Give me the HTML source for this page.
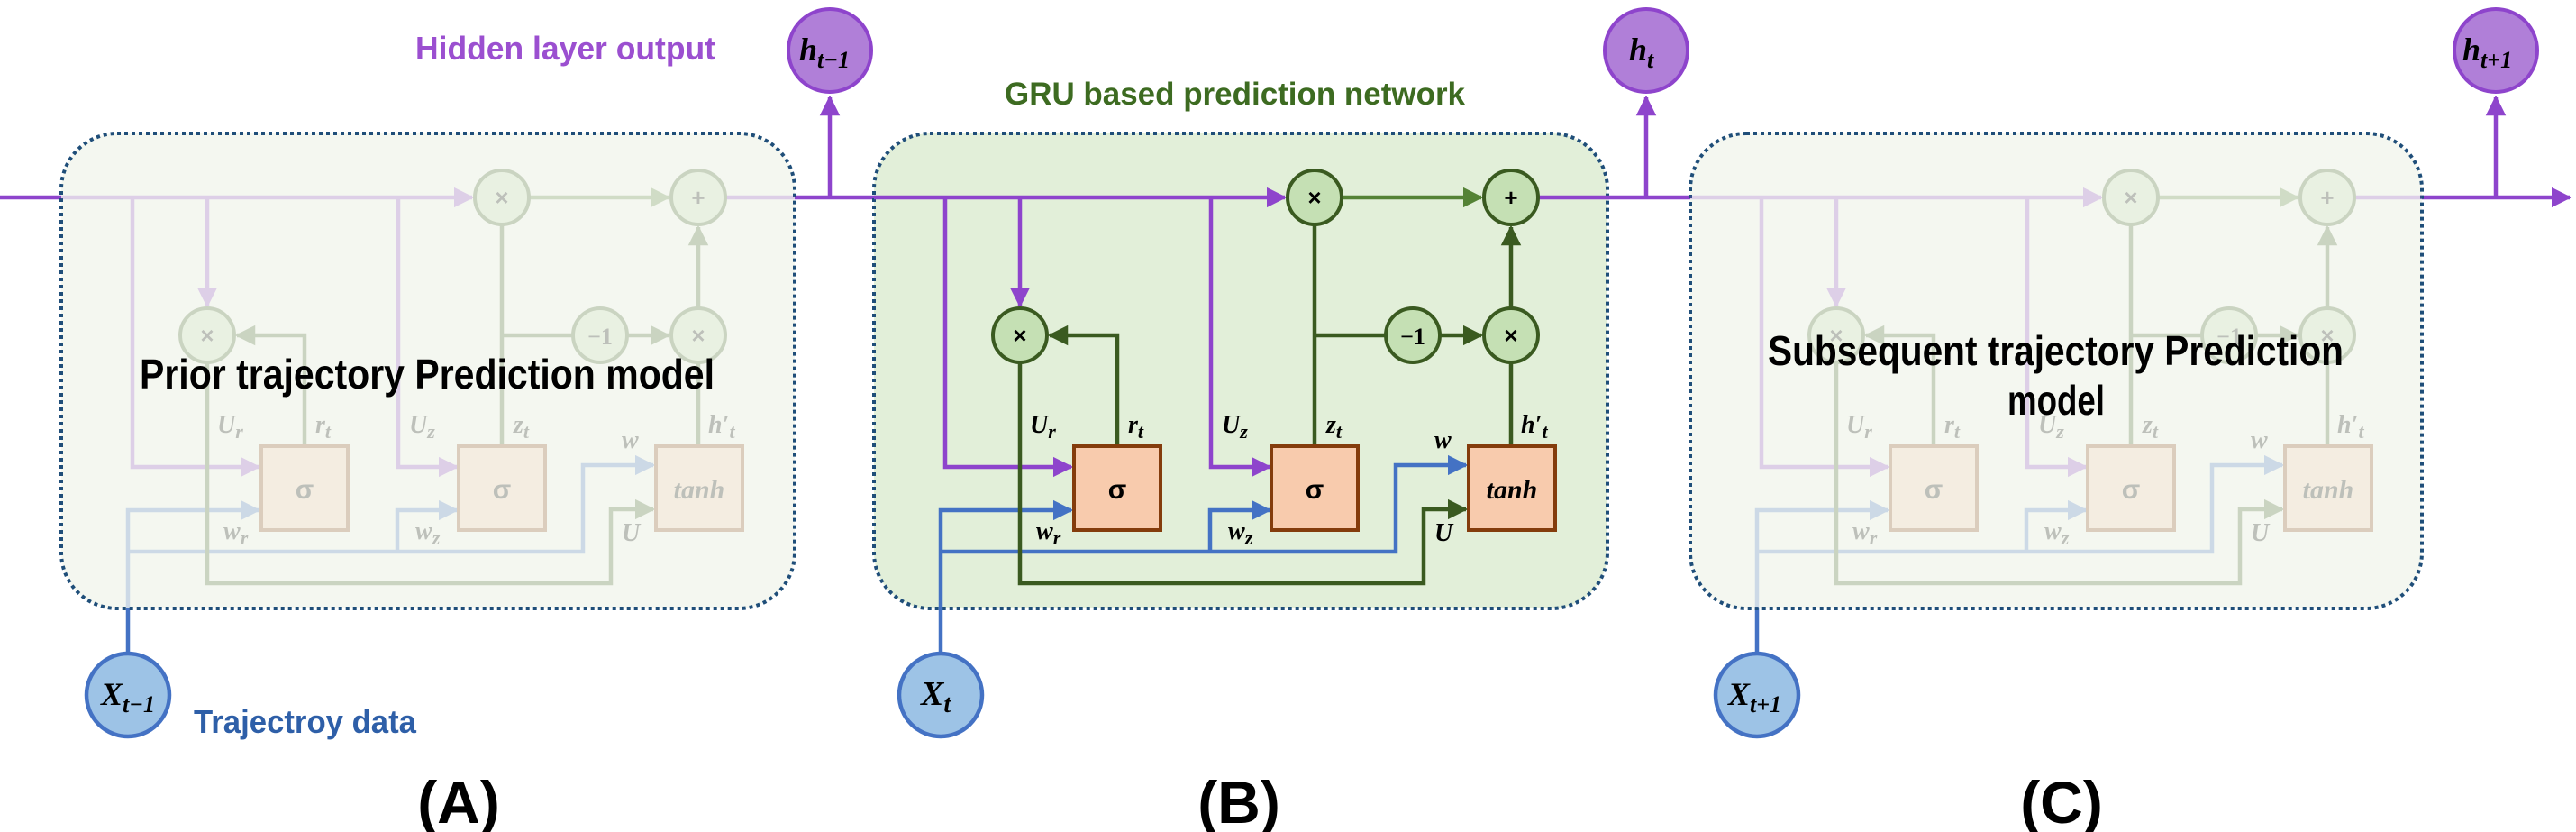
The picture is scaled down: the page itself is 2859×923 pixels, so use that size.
<!DOCTYPE html>
<html><head><meta charset="utf-8"><style>
html,body{margin:0;padding:0;background:#fff;}
svg{display:block;}
.m{font-family:"Liberation Serif",serif;font-weight:bold;font-style:italic;fill:#000;}
.s{font-family:"Liberation Sans",sans-serif;font-weight:bold;}
</style></head><body>
<svg width="2859" height="923" viewBox="0 0 2859 923" xmlns="http://www.w3.org/2000/svg">
<defs>
<marker id="ap" viewBox="0 0 10 10" refX="9" refY="5" markerWidth="5" markerHeight="6" orient="auto" markerUnits="strokeWidth"><path d="M0,0 L10,5 L0,10 z" fill="#8e44cc"/></marker>
<marker id="ab" viewBox="0 0 10 10" refX="9" refY="5" markerWidth="5" markerHeight="6" orient="auto" markerUnits="strokeWidth"><path d="M0,0 L10,5 L0,10 z" fill="#4472c4"/></marker>
<marker id="ag" viewBox="0 0 10 10" refX="9" refY="5" markerWidth="5" markerHeight="6" orient="auto" markerUnits="strokeWidth"><path d="M0,0 L10,5 L0,10 z" fill="#3a5a20"/></marker>
<marker id="al" viewBox="0 0 10 10" refX="9" refY="5" markerWidth="5" markerHeight="6" orient="auto" markerUnits="strokeWidth"><path d="M0,0 L10,5 L0,10 z" fill="#548235"/></marker>
</defs>

<g stroke="#8e44cc" stroke-width="4.5" fill="none">
<line x1="0" y1="219" x2="70" y2="219"/>
<line x1="880" y1="219" x2="972" y2="219"/>
<line x1="1708" y1="219" x2="1878" y2="219"/>
<line x1="2686" y1="219" x2="2852" y2="219" marker-end="url(#ap)"/>
<line x1="921" y1="219" x2="921" y2="108" marker-end="url(#ap)"/>
<line x1="1827" y1="219" x2="1827" y2="108" marker-end="url(#ap)"/>
<line x1="2770" y1="219" x2="2770" y2="108" marker-end="url(#ap)"/>
</g>
<g stroke="#4472c4" stroke-width="4.5">
<line x1="142" y1="675" x2="142" y2="724"/>
<line x1="1950" y1="675" x2="1950" y2="724"/>
</g>

<g stroke="#8e44cc" stroke-width="4" fill="#b07fd8">
<circle cx="921" cy="56" r="46"/><circle cx="1827" cy="56" r="46"/><circle cx="2770" cy="56" r="46"/>
</g>
<text class="m" x="887" y="67" font-size="36">h<tspan font-size="26" dy="8">t−1</tspan></text>
<text class="m" x="1808" y="67" font-size="36">h<tspan font-size="26" dy="8">t</tspan></text>
<text class="m" x="2733" y="67" font-size="36">h<tspan font-size="26" dy="8">t+1</tspan></text>

<g stroke="#4472c4" stroke-width="4.5" fill="#9dc3e6">
<circle cx="142" cy="771" r="46"/><circle cx="1044" cy="771" r="46"/><circle cx="1950" cy="771" r="46"/>
</g>
<text class="m" x="112" y="782" font-size="36">X<tspan font-size="26" dy="8">t−1</tspan></text>
<text class="m" x="1022" y="782" font-size="38">X<tspan font-size="28" dy="8">t</tspan></text>
<text class="m" x="1918" y="782" font-size="36">X<tspan font-size="26" dy="8">t+1</tspan></text>

<rect x="68" y="148" width="814" height="527" rx="62" fill="#f4f7f0" stroke="#1f4e79" stroke-width="4" stroke-dasharray="4 4"/>
<rect x="970" y="148" width="814" height="527" rx="62" fill="#e2efd9" stroke="#1f4e79" stroke-width="4" stroke-dasharray="4 4"/>
<rect x="1876" y="148" width="812" height="527" rx="62" fill="#f4f7f0" stroke="#1f4e79" stroke-width="4" stroke-dasharray="4 4"/>

<g id="B">
<g fill="none" stroke-width="4.5">
<path d="M970,219 H1426" stroke="#8e44cc" marker-end="url(#ap)"/>
<path d="M1490,219 H1644" stroke="#548235" marker-end="url(#al)"/>
<path d="M1708,219 H1786" stroke="#8e44cc"/>
<path d="M1049,219 V518 H1189" stroke="#8e44cc" marker-end="url(#ap)"/>
<path d="M1132,219 V339" stroke="#8e44cc" marker-end="url(#ap)"/>
<path d="M1344,219 V518 H1409" stroke="#8e44cc" marker-end="url(#ap)"/>
<path d="M1044,724 V566 H1189" stroke="#4472c4" marker-end="url(#ab)"/>
<path d="M1044,612 H1549 V516 H1627" stroke="#4472c4" marker-end="url(#ab)"/>
<path d="M1343,612 V566 H1409" stroke="#4472c4" marker-end="url(#ab)"/>
<path d="M1132,403 V647 H1580 V565 H1627" stroke="#3a5a20" marker-end="url(#ag)"/>
<path d="M1240,494 V372 H1165" stroke="#3a5a20" marker-end="url(#ag)"/>
<path d="M1459,494 V250" stroke="#3a5a20"/>
<path d="M1459,372 H1537" stroke="#3a5a20"/>
<path d="M1599,372 H1644" stroke="#3a5a20" marker-end="url(#ag)"/>
<path d="M1677,494 V403" stroke="#3a5a20"/>
<path d="M1677,341 V252" stroke="#3a5a20" marker-end="url(#ag)"/>
</g>
<g fill="#c5e0b4" stroke="#3a5a20" stroke-width="4">
<circle cx="1132" cy="372" r="30"/><circle cx="1568" cy="372" r="30"/><circle cx="1677" cy="372" r="30"/>
<circle cx="1459" cy="219" r="30"/><circle cx="1677" cy="219" r="30"/>
</g>
<g class="s" font-size="26" text-anchor="middle" fill="#000">
<text x="1132" y="381">×</text><text x="1677" y="381">×</text><text x="1459" y="228">×</text><text x="1677" y="228">+</text>
</g>
<text x="1568" y="382" text-anchor="middle" font-family="Liberation Serif,serif" font-weight="bold" font-size="26">−1</text>
<g fill="#f8cbad" stroke="#843c0c" stroke-width="4">
<rect x="1192" y="495" width="96" height="93"/><rect x="1411" y="495" width="96" height="93"/><rect x="1630" y="495" width="96" height="93"/>
</g>
<text class="s" x="1240" y="553" font-size="30" text-anchor="middle">σ</text>
<text class="s" x="1459" y="553" font-size="30" text-anchor="middle">σ</text>
<text class="m" x="1678" y="553" font-size="30" text-anchor="middle">tanh</text>
<g class="m" font-size="28">
<text x="1143" y="480">U<tspan font-size="22" dy="6">r</tspan></text>
<text x="1252" y="480">r<tspan font-size="22" dy="6">t</tspan></text>
<text x="1356" y="480">U<tspan font-size="22" dy="6">z</tspan></text>
<text x="1472" y="480">z<tspan font-size="22" dy="6">t</tspan></text>
<text x="1688" y="480">h′<tspan font-size="22" dy="6">t</tspan></text>
<text x="1592" y="497">w</text>
<text x="1150" y="598">w<tspan font-size="22" dy="6">r</tspan></text>
<text x="1363" y="598">w<tspan font-size="22" dy="6">z</tspan></text>
<text x="1592" y="600">U</text>
</g>
</g>

<g opacity="0.22" transform="translate(-902,0)">
<g fill="none" stroke-width="4.5">
<path d="M970,219 H1426" stroke="#8e44cc" marker-end="url(#ap)"/>
<path d="M1490,219 H1644" stroke="#548235" marker-end="url(#al)"/>
<path d="M1708,219 H1784" stroke="#8e44cc"/>
<path d="M1049,219 V518 H1189" stroke="#8e44cc" marker-end="url(#ap)"/>
<path d="M1132,219 V339" stroke="#8e44cc" marker-end="url(#ap)"/>
<path d="M1344,219 V518 H1409" stroke="#8e44cc" marker-end="url(#ap)"/>
<path d="M1044,675 V566 H1189" stroke="#4472c4" marker-end="url(#ab)"/>
<path d="M1044,612 H1549 V516 H1627" stroke="#4472c4" marker-end="url(#ab)"/>
<path d="M1343,612 V566 H1409" stroke="#4472c4" marker-end="url(#ab)"/>
<path d="M1132,403 V647 H1580 V565 H1627" stroke="#3a5a20" marker-end="url(#ag)"/>
<path d="M1240,494 V372 H1165" stroke="#3a5a20" marker-end="url(#ag)"/>
<path d="M1459,494 V250" stroke="#3a5a20"/>
<path d="M1459,372 H1537" stroke="#3a5a20"/>
<path d="M1599,372 H1644" stroke="#3a5a20" marker-end="url(#ag)"/>
<path d="M1677,494 V403" stroke="#3a5a20"/>
<path d="M1677,341 V252" stroke="#3a5a20" marker-end="url(#ag)"/>
</g>
<g fill="#c5e0b4" stroke="#3a5a20" stroke-width="4">
<circle cx="1132" cy="372" r="30"/><circle cx="1568" cy="372" r="30"/><circle cx="1677" cy="372" r="30"/>
<circle cx="1459" cy="219" r="30"/><circle cx="1677" cy="219" r="30"/>
</g>
<g class="s" font-size="26" text-anchor="middle" fill="#000">
<text x="1132" y="381">×</text><text x="1677" y="381">×</text><text x="1459" y="228">×</text><text x="1677" y="228">+</text>
</g>
<text x="1568" y="382" text-anchor="middle" font-family="Liberation Serif,serif" font-weight="bold" font-size="26">−1</text>
<g fill="#f8cbad" stroke="#843c0c" stroke-width="4">
<rect x="1192" y="495" width="96" height="93"/><rect x="1411" y="495" width="96" height="93"/><rect x="1630" y="495" width="96" height="93"/>
</g>
<text class="s" x="1240" y="553" font-size="30" text-anchor="middle">σ</text>
<text class="s" x="1459" y="553" font-size="30" text-anchor="middle">σ</text>
<text class="m" x="1678" y="553" font-size="30" text-anchor="middle">tanh</text>
<g class="m" font-size="28">
<text x="1143" y="480">U<tspan font-size="22" dy="6">r</tspan></text>
<text x="1252" y="480">r<tspan font-size="22" dy="6">t</tspan></text>
<text x="1356" y="480">U<tspan font-size="22" dy="6">z</tspan></text>
<text x="1472" y="480">z<tspan font-size="22" dy="6">t</tspan></text>
<text x="1688" y="480">h′<tspan font-size="22" dy="6">t</tspan></text>
<text x="1592" y="497">w</text>
<text x="1150" y="598">w<tspan font-size="22" dy="6">r</tspan></text>
<text x="1363" y="598">w<tspan font-size="22" dy="6">z</tspan></text>
<text x="1592" y="600">U</text>
</g>
</g>

<g opacity="0.22" transform="translate(906,0)">
<g fill="none" stroke-width="4.5">
<path d="M970,219 H1426" stroke="#8e44cc" marker-end="url(#ap)"/>
<path d="M1490,219 H1644" stroke="#548235" marker-end="url(#al)"/>
<path d="M1708,219 H1782" stroke="#8e44cc"/>
<path d="M1049,219 V518 H1189" stroke="#8e44cc" marker-end="url(#ap)"/>
<path d="M1132,219 V339" stroke="#8e44cc" marker-end="url(#ap)"/>
<path d="M1344,219 V518 H1409" stroke="#8e44cc" marker-end="url(#ap)"/>
<path d="M1044,675 V566 H1189" stroke="#4472c4" marker-end="url(#ab)"/>
<path d="M1044,612 H1549 V516 H1627" stroke="#4472c4" marker-end="url(#ab)"/>
<path d="M1343,612 V566 H1409" stroke="#4472c4" marker-end="url(#ab)"/>
<path d="M1132,403 V647 H1580 V565 H1627" stroke="#3a5a20" marker-end="url(#ag)"/>
<path d="M1240,494 V372 H1165" stroke="#3a5a20" marker-end="url(#ag)"/>
<path d="M1459,494 V250" stroke="#3a5a20"/>
<path d="M1459,372 H1537" stroke="#3a5a20"/>
<path d="M1599,372 H1644" stroke="#3a5a20" marker-end="url(#ag)"/>
<path d="M1677,494 V403" stroke="#3a5a20"/>
<path d="M1677,341 V252" stroke="#3a5a20" marker-end="url(#ag)"/>
</g>
<g fill="#c5e0b4" stroke="#3a5a20" stroke-width="4">
<circle cx="1132" cy="372" r="30"/><circle cx="1568" cy="372" r="30"/><circle cx="1677" cy="372" r="30"/>
<circle cx="1459" cy="219" r="30"/><circle cx="1677" cy="219" r="30"/>
</g>
<g class="s" font-size="26" text-anchor="middle" fill="#000">
<text x="1132" y="381">×</text><text x="1677" y="381">×</text><text x="1459" y="228">×</text><text x="1677" y="228">+</text>
</g>
<text x="1568" y="382" text-anchor="middle" font-family="Liberation Serif,serif" font-weight="bold" font-size="26">−1</text>
<g fill="#f8cbad" stroke="#843c0c" stroke-width="4">
<rect x="1192" y="495" width="96" height="93"/><rect x="1411" y="495" width="96" height="93"/><rect x="1630" y="495" width="96" height="93"/>
</g>
<text class="s" x="1240" y="553" font-size="30" text-anchor="middle">σ</text>
<text class="s" x="1459" y="553" font-size="30" text-anchor="middle">σ</text>
<text class="m" x="1678" y="553" font-size="30" text-anchor="middle">tanh</text>
<g class="m" font-size="28">
<text x="1143" y="480">U<tspan font-size="22" dy="6">r</tspan></text>
<text x="1252" y="480">r<tspan font-size="22" dy="6">t</tspan></text>
<text x="1356" y="480">U<tspan font-size="22" dy="6">z</tspan></text>
<text x="1472" y="480">z<tspan font-size="22" dy="6">t</tspan></text>
<text x="1688" y="480">h′<tspan font-size="22" dy="6">t</tspan></text>
<text x="1592" y="497">w</text>
<text x="1150" y="598">w<tspan font-size="22" dy="6">r</tspan></text>
<text x="1363" y="598">w<tspan font-size="22" dy="6">z</tspan></text>
<text x="1592" y="600">U</text>
</g>
</g>

<text class="s" x="461" y="66" font-size="36" fill="#9b4fd0" textLength="333" lengthAdjust="spacingAndGlyphs">Hidden layer output</text>
<text class="s" x="215" y="813" font-size="36" fill="#2e5fa8" textLength="247" lengthAdjust="spacingAndGlyphs">Trajectroy data</text>
<text class="s" x="1115" y="116" font-size="35" fill="#3d6b21" textLength="511" lengthAdjust="spacingAndGlyphs">GRU based prediction network</text>
<text class="s" x="155" y="431" font-size="46" fill="#000" textLength="638" lengthAdjust="spacingAndGlyphs">Prior trajectory Prediction model</text>
<text class="s" x="1962" y="405" font-size="46" fill="#000" textLength="639" lengthAdjust="spacingAndGlyphs">Subsequent trajectory Prediction</text>
<text class="s" x="2282" y="460" font-size="46" fill="#000" text-anchor="middle" textLength="108" lengthAdjust="spacingAndGlyphs">model</text>

<g class="s" font-size="66" text-anchor="middle" fill="#000">
<text x="509" y="913">(A)</text>
<text x="1375" y="913">(B)</text>
<text x="2288" y="913">(C)</text>
</g>
</svg>
</body></html>
